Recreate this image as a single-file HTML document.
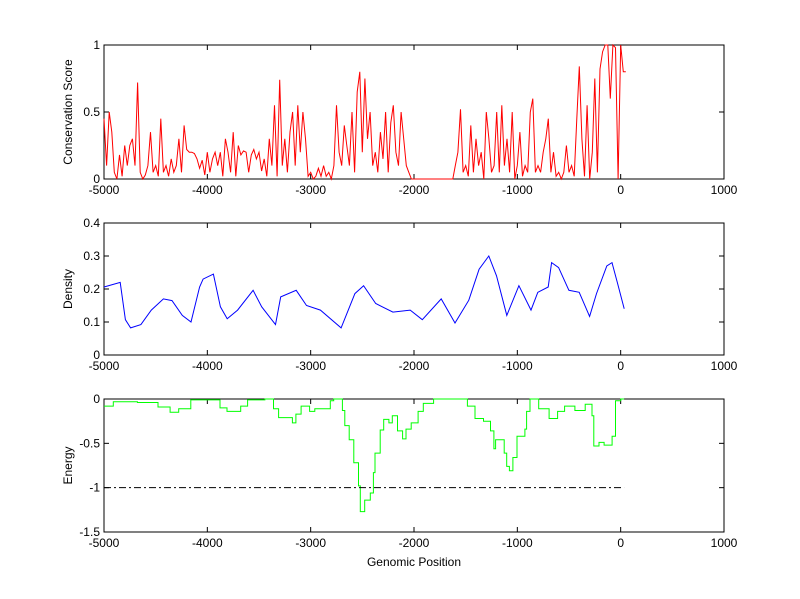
<!DOCTYPE html>
<html><head><meta charset="utf-8"><style>
body{margin:0;background:#fff}
svg{display:block;font-family:"Liberation Sans",Arial,sans-serif;font-size:12px}
</style></head><body>
<svg id="fig" width="800" height="599" viewBox="0 0 800 599" xmlns="http://www.w3.org/2000/svg">
<rect width="800" height="599" fill="#fff"/>
</svg>
<script>
// ----- data -----
const xTicks = [-5000,-4000,-3000,-2000,-1000,0,1000];
const consStart = -5000;
const consStep = 25;
const consValues = [
0.45,0.1,0.5,0.35,0.05,0,0.18,0.02,0.25,0.1,0.25,0.3,0.1,0.72,0.05,0,0.03,0.1,0.35,0.05,
0.1,0.02,0.45,0.05,0.1,0.02,0.15,0.05,0.1,0.3,0.05,0.4,0.22,0.2,0.2,0.19,0.15,0.08,0.14,0.03,
0.2,0.05,0.15,0.2,0.1,0.2,0.02,0.3,0.2,0.05,0.35,0.02,0.25,0.18,0.21,0.2,0.05,0.18,0.22,0.15,
0.2,0.06,0.15,0.02,0.3,0.1,0.55,0.02,0.74,0.1,0.3,0.05,0.35,0.5,0.1,0.55,0.2,0.5,0.3,0.02,
0.05,0,0.02,0.08,0.02,0.1,0.02,0.05,0,0.1,0.55,0.2,0.1,0.4,0.25,0.1,0.5,0.05,0.65,0.8,
0.2,0.75,0.3,0.5,0.1,0.2,0.05,0.35,0.15,0.5,0.05,0.42,0.55,0.2,0.1,0.5,0.3,0.1,0.05,0,
0,0,0,0,0,0,0,0,0,0,0,0,0,0,0,0,0.1,0.2,0.52,0.05,
0.1,0.02,0.4,0.05,0.3,0.1,0.2,0,0.5,0.3,0.05,0.1,0.5,0.05,0.55,0.1,0.3,0.05,0.5,0,
0.1,0.35,0.02,0.1,0.05,0.5,0.6,0.05,0.1,0.05,0.2,0.3,0.45,0.05,0.2,0.02,0.05,0,0.05,0.25,
0.05,0.1,0.02,0.45,0.84,0.3,0.02,0.55,0,0.2,0.75,0.05,0.82,0.95,1,1,0.6,1,0.98,0,
1,0.8,0.8];
const densX = [-5000,-4843,-4793,-4743,-4643,-4542,-4425,-4342,-4242,-4158,-4075,-4041,-3941,-3874,-3808,-3707,-3557,-3474,-3340,-3290,-3140,-3040,-2906,-2705,-2572,-2488,-2371,-2204,-2037,-1920,-1737,-1603,-1470,-1370,-1276,-1202,-1102,-985,-868,-802,-701,-668,-601,-501,-401,-301,-234,-134,-84,-33,34];
const densY = [0.206,0.22,0.107,0.082,0.092,0.136,0.17,0.165,0.12,0.10,0.206,0.23,0.245,0.146,0.11,0.136,0.196,0.146,0.092,0.176,0.196,0.15,0.136,0.082,0.186,0.21,0.156,0.13,0.136,0.107,0.17,0.097,0.166,0.26,0.30,0.24,0.12,0.21,0.136,0.19,0.206,0.28,0.265,0.196,0.19,0.117,0.186,0.27,0.28,0.22,0.14];
const enX = [-5000,-4910,-4677,-4477,-4360,-4277,-4160,-3877,-3810,-3677,-3610,-3443,-3360,-3310,-3177,-3143,-3093,-3010,-2960,-2810,-2777,-2693,-2670,-2627,-2583,-2537,-2520,-2477,-2423,-2393,-2377,-2327,-2293,-2243,-2210,-2160,-2110,-2077,-2027,-1960,-1910,-1810,-1483,-1410,-1327,-1260,-1227,-1210,-1127,-1103,-1077,-1043,-1003,-927,-910,-877,-793,-693,-610,-543,-443,-343,-277,-260,-210,-160,-83,-50,0];
const enY = [-0.08,-0.03,-0.04,-0.09,-0.15,-0.11,-0.01,-0.1,-0.14,-0.08,-0.01,0,-0.11,-0.21,-0.27,-0.17,-0.08,-0.14,-0.11,-0.02,0,-0.13,-0.30,-0.46,-0.72,-0.98,-1.27,-1.14,-1.06,-0.83,-0.61,-0.35,-0.23,-0.27,-0.19,-0.36,-0.45,-0.34,-0.27,-0.14,-0.05,0,-0.08,-0.22,-0.25,-0.36,-0.56,-0.46,-0.61,-0.76,-0.81,-0.66,-0.42,-0.34,-0.14,0,-0.11,-0.22,-0.14,-0.08,-0.13,-0.06,-0.19,-0.53,-0.49,-0.52,-0.42,-0.02,0];
const enEnd = 33;
const threshold = -1;

const NS="http://www.w3.org/2000/svg";
const svg=document.getElementById('fig');
const X0=104,X1=724;
function xs(v){return X0+(v+5000)/6000*(X1-X0);}
function mk(tag,attrs){const e=document.createElementNS(NS,tag);for(const k in attrs)e.setAttribute(k,attrs[k]);svg.appendChild(e);return e;}

const panels=[
 {name:'conservation',top:45,bot:179,ymin:0,ymax:1,yt:[0,0.5,1],ylab:'Conservation Score'},
 {name:'density',top:223,bot:355,ymin:0,ymax:0.4,yt:[0,0.1,0.2,0.3,0.4],ylab:'Density'},
 {name:'energy',top:399,bot:532,ymin:-1.5,ymax:0,yt:[-1.5,-1,-0.5,0],ylab:'Energy'}
];
function ysf(p){return v=>p.bot-(v-p.ymin)/(p.ymax-p.ymin)*(p.bot-p.top);}

function drawAxes(p){
 const ys=ysf(p);
 const box=mk('rect',{x:X0,y:p.top,width:X1-X0,height:p.bot-p.top,fill:'none',stroke:'#000','stroke-width':1});
 
 
 xTicks.forEach(t=>{
  const x=xs(t);
  mk('line',{x1:x,x2:x,y1:p.bot,y2:p.bot-5,stroke:'#000'});
  mk('line',{x1:x,x2:x,y1:p.top,y2:p.top+5,stroke:'#000'});
  const tx=mk('text',{x:x,y:p.bot+15,'text-anchor':'middle'});
  tx.textContent=t;
  
  
 });
 p.yt.forEach(t=>{
  const y=ys(t);
  mk('line',{x1:X0,x2:X0+5,y1:y,y2:y,stroke:'#000'});
  mk('line',{x1:X1,x2:X1-5,y1:y,y2:y,stroke:'#000'});
  const tx=mk('text',{x:X0-4,y:y+4,'text-anchor':'end'});
  tx.textContent=t;
  
  
 });
 const cy=(p.top+p.bot)/2;
 const yl=mk('text',{x:72,y:cy,'text-anchor':'middle',transform:`rotate(-90 72 ${cy})`});
 yl.textContent=p.ylab;
 
 
}
panels.forEach(drawAxes);

// conservation line
{
 const ys=ysf(panels[0]);
 const pts=consValues.map((v,i)=>xs(consStart+i*consStep).toFixed(1)+','+ys(v).toFixed(1)).join(' ');
 const l=mk('polyline',{points:pts,fill:'none',stroke:'#f00','stroke-width':1});
 
 
}
// density line
{
 const ys=ysf(panels[1]);
 const pts=densX.map((x,i)=>xs(x).toFixed(1)+','+ys(densY[i]).toFixed(1)).join(' ');
 const l=mk('polyline',{points:pts,fill:'none',stroke:'#00f','stroke-width':1});
 
 
}
// energy stairs
{
 const ys=ysf(panels[2]);
 let pts=[];
 enX.forEach((x,i)=>{
  const nx=i<enX.length-1?enX[i+1]:enEnd;
  pts.push(xs(x).toFixed(1)+','+ys(enY[i]).toFixed(1));
  pts.push(xs(nx).toFixed(1)+','+ys(enY[i]).toFixed(1));
 });
 const l=mk('polyline',{points:pts.join(' '),fill:'none',stroke:'#0f0','stroke-width':1});
 
 
 const t=mk('line',{x1:xs(-5000),x2:xs(enEnd),y1:ys(threshold),y2:ys(threshold),stroke:'#000','stroke-dasharray':'7,3,2,3'});
 
 
}
const xl=mk('text',{x:414,y:566,'text-anchor':'middle'});
xl.textContent='Genomic Position';


</script>
</body></html>
